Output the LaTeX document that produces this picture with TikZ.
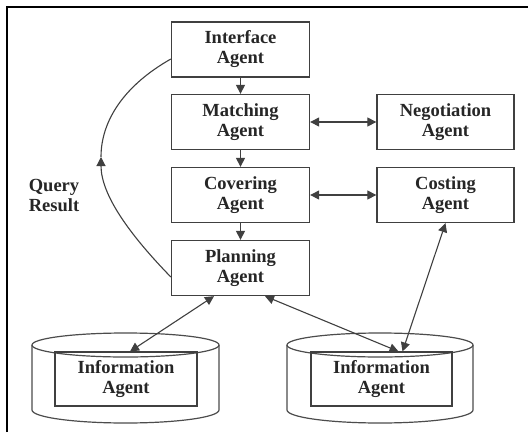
\documentclass[tikz,border=0pt]{standalone}
\usepackage{fontspec}
\setmainfont{Liberation Serif}
\usetikzlibrary{arrows.meta,calc}
\begin{document}
\begin{tikzpicture}[x=1pt,y=-1pt,
  lbl/.style={font=\fontsize{18.5}{20}\selectfont\bfseries, text=black!85, align=center},
  agent/.style={lbl, draw=black!75, line width=1.3pt, minimum width=138pt, minimum height=55pt, inner sep=0pt},
  conn/.style={draw=black!75, line width=1.1pt},
  tip/.style={-{Triangle[length=9pt,width=9pt]}},
  dtip/.style={{Triangle[length=9pt,width=9pt]}-{Triangle[length=9pt,width=9pt]}},
  cyl/.style={draw=black!70, line width=1.2pt}]
\useasboundingbox (0,0) rectangle (528,432);
\fill[white] (0,0) rectangle (528,432);
\draw[black, line width=1.5pt] (7,432) -- (7,7) -- (528,7);

% agents
\node[agent] (iface) at (240.5,49.5) {Interface\\Agent};
\node[agent] (match) at (240.5,122) {Matching\\Agent};
\node[agent] (cover) at (240.5,195) {Covering\\Agent};
\node[agent] (plan) at (240.5,268) {Planning\\Agent};
\node[agent, minimum width=137pt] (nego) at (445.5,122) {Negotiation\\Agent};
\node[agent, minimum width=137pt] (cost) at (445.5,195) {Costing\\Agent};

% cylinders
\draw[cyl] (125.5,345) ellipse [x radius=93.5, y radius=12];
\draw[cyl] (32,345) -- (32,410) arc [start angle=180, end angle=0, x radius=93.5, y radius=13] -- (219,345);
\draw[cyl] (380,345) ellipse [x radius=93, y radius=12];
\draw[cyl] (287,345) -- (287,410) arc [start angle=180, end angle=0, x radius=93, y radius=13] -- (473,345);

\node[agent, line width=1.1pt, minimum width=142pt, minimum height=54pt] (info1) at (126,379) {Information\\Agent};
\node[agent, line width=1.1pt, minimum width=141pt, minimum height=54pt] (info2) at (381.5,379) {Information\\Agent};

% query result
\node[lbl] (qr) at (54,195) {Query\\Result};

% vertical arrows
\draw[conn, tip] (iface) -- (match);
\draw[conn, tip] (match) -- (cover);
\draw[conn, tip] (cover) -- (plan);

% horizontal double arrows
\draw[conn, dtip] (match) -- (nego);
\draw[conn, dtip] (cover) -- (cost);

% diagonal arrows
\draw[conn, dtip] ([xshift=-26.5pt]plan.south) -- ([xshift=4pt]info1.north);
\draw[conn, dtip] ([xshift=24.5pt]plan.south) -- ([xshift=17pt]info2.north);
\draw[conn, dtip] (cost.south) -- ([xshift=21pt]info2.north);

% query result curve
\coordinate (apex) at (101,157);
\draw[conn, tip] ([yshift=-9pt]plan.west) .. controls (130,235) and (101,195) .. (apex);
\draw[conn] (apex) .. controls (101,120) and (125,85) .. ([yshift=-9.5pt]iface.west);
\end{tikzpicture}
\end{document}
